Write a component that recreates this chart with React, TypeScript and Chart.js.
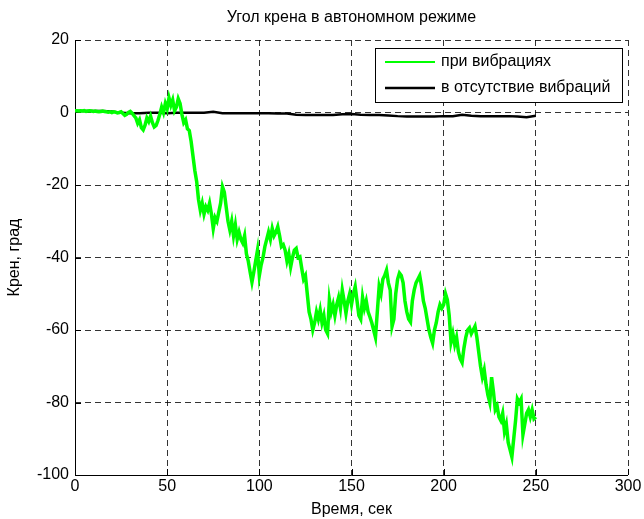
import React, { useEffect, useRef } from "react";
import { Chart, registerables } from "chart.js";

Chart.register(...registerables);

// Roll angle, one sample per second, 0..250 s
const timeVib: number[] = Array.from({ length: 251 }, (_, i) => i);
const rollVib: number[] = [
  0.5, 0.5, 0.4, 0.5, 0.4, 0.5, 0.3, 0.4, 0.5, 0.4,
  0.3, 0.4, 0.3, 0.2, 0.3, 0.4, 0.3, 0.2, 0.1, 0.2,
  0.0, 0.2, 0.1, -0.1, 0.0,
  0.2, -0.3, -0.8, -0.5, 0.0, 0.3, -0.2, -0.9, -1.5, -3.0,
  -2.0, -4.2, -4.8, -3.5, -1.5, -2.5, -1.0, -2.8, -4.0, -3.6,
  -2.2, -0.5, 1.5, 0.0, 2.5,
  1.0, 4.0, 2.0, 3.5, 0.5, 1.5, 3.8, 2.5, -0.5, -2.8,
  -2.0, -4.5, -5.0,
  -8, -12, -16, -19, -24, -27, -25, -28,
  -26, -27, -25, -28, -32, -29, -30, -27.5, -25, -20.5,
  -22, -26, -30, -32.4, -30, -34, -31, -35, -33, -35,
  -36, -34, -39, -41, -44, -46.8, -44, -41, -38, -45,
  -42, -40, -37, -35, -33, -35, -32, -34, -33, -31.5,
  -34, -37, -36.5, -38, -41, -39, -42.6, -40, -38, -37.5,
  -40, -39.8, -43, -46, -45, -50, -55, -57, -60, -58,
  -55, -57, -54.5, -58, -56, -60, -61, -51.7, -55, -53,
  -56, -53, -51, -54, -49, -52, -55.4, -52, -50, -53,
  -50, -48, -52, -56, -57, -51, -54, -52, -55, -56.4,
  -58, -60, -62, -55, -48, -50, -46, -45, -43.5, -47,
  -49, -59, -57, -50, -46, -44.3, -45, -47, -52, -55,
  -57, -57.8, -52, -49, -47, -46, -45, -48, -52, -54,
  -57, -60, -62, -63.6, -60, -58, -55, -53, -54, -53,
  -50, -51.7, -56, -63.3, -61, -64, -62, -66, -68, -69,
  -65, -62, -60, -59.4, -61, -60, -59, -62, -66, -70,
  -73, -71, -75, -78, -80, -73, -77, -82, -81, -84,
  -85, -83, -88, -86, -91, -93, -95, -90, -85, -79,
  -80, -79, -88.9, -86, -83, -82, -84, -82, -84.5, -84,
];

// Roll angle without vibration, one sample per 5 s
const timeCalm: number[] = Array.from({ length: 51 }, (_, i) => i * 5);
const rollCalm: number[] = [
  0.4, 0.4, 0.4, 0.4, 0.3, -0.1, -0.2, -0.2, -0.1, -0.1,
  -0.2, -0.1, -0.1, -0.1, -0.1, 0.2, -0.2, -0.2, -0.2, -0.2,
  -0.2, -0.2, -0.3, -0.3, -0.6, -0.7, -0.7, -0.7, -0.7, -0.5,
  -0.4, -0.6, -0.7, -0.7, -0.8, -1.0, -1.1, -1.1, -1.1, -1.1,
  -1.0, -1.0, -0.6, -0.9, -1.0, -1.0, -1.0, -1.0, -1.1, -1.3,
  -0.9,
];

const seriesLabels: string[] = ["при вибрациях", "в отсутствие вибраций"];
const chartTitle = "Угол крена в автономном режиме";
const xTitle = "Время, сек";
const yTitle = "Крен, град";
const xTicks: number[] = [0, 50, 100, 150, 200, 250, 300];
const yTicks: number[] = [-100, -80, -60, -40, -20, 0, 20];

const FONT = "'Liberation Sans', Arial, Helvetica, sans-serif";
const FONT_SIZE = 16;

// Solid left/bottom axis lines with short inward tick marks
const axesPlugin = {
  id: "axesBox",
  beforeDatasetsDraw(chart: any) {
    const { ctx, chartArea, scales } = chart;
    const { left, right, top, bottom } = chartArea;
    ctx.save();
    ctx.strokeStyle = "#000";
    ctx.lineWidth = 1;
    ctx.setLineDash([]);
    ctx.beginPath();
    ctx.moveTo(left + 0.5, top);
    ctx.lineTo(left + 0.5, bottom + 0.5);
    ctx.lineTo(right, bottom + 0.5);
    xTicks.forEach((v) => {
      const x = Math.round(scales.x.getPixelForValue(v)) + 0.5;
      ctx.moveTo(x, bottom);
      ctx.lineTo(x, bottom - 6);
    });
    yTicks.forEach((v) => {
      const y = Math.round(scales.y.getPixelForValue(v)) + 0.5;
      ctx.moveTo(left, y);
      ctx.lineTo(left + 6, y);
    });
    ctx.stroke();
    ctx.restore();
  },
};

// Title centred over the plot area plus a boxed legend in the upper right
const decorPlugin = {
  id: "decor",
  afterDraw(chart: any) {
    const { ctx, chartArea } = chart;
    ctx.save();
    ctx.fillStyle = "#000";
    ctx.font = `${FONT_SIZE}px ${FONT}`;
    ctx.textAlign = "center";
    ctx.textBaseline = "middle";
    ctx.fillText(chartTitle, (chartArea.left + chartArea.right) / 2, 18);

    const bx = 375, by = 48, bw = 247, bh = 54;
    ctx.fillStyle = "#fff";
    ctx.fillRect(bx, by, bw, bh);
    ctx.strokeStyle = "#000";
    ctx.lineWidth = 1;
    ctx.setLineDash([]);
    ctx.strokeRect(bx + 0.5, by + 0.5, bw, bh);
    chart.data.datasets.forEach((ds: any, i: number) => {
      const y = by + 14 + i * 26;
      ctx.strokeStyle = ds.borderColor;
      ctx.lineWidth = i === 0 ? 2 : 2.5;
      ctx.beginPath();
      ctx.moveTo(bx + 10, y);
      ctx.lineTo(bx + 60, y);
      ctx.stroke();
      ctx.fillStyle = "#000";
      ctx.textAlign = "left";
      ctx.font = `${FONT_SIZE}px ${FONT}`;
      ctx.fillText(ds.label, bx + 66, y);
    });
    ctx.restore();
  },
};

export default function App() {
  const ref = useRef<HTMLCanvasElement>(null);

  useEffect(() => {
    if (!ref.current) return;
    const chart = new Chart(ref.current, {
      type: "line",
      data: {
        datasets: [
          {
            label: seriesLabels[0],
            data: timeVib.map((t, i) => ({ x: t, y: rollVib[i] })),
            borderColor: "#00ff00",
            borderWidth: 3.5,
            pointRadius: 0,
            tension: 0,
          },
          {
            label: seriesLabels[1],
            data: timeCalm.map((t, i) => ({ x: t, y: rollCalm[i] })),
            borderColor: "#000000",
            borderWidth: 2.5,
            pointRadius: 0,
            tension: 0,
          },
        ],
      },
      options: {
        responsive: false,
        animation: false,
        layout: { padding: { top: 40, right: 16, left: 0, bottom: 0 } },
        plugins: {
          legend: { display: false },
          title: { display: false },
          tooltip: { enabled: false },
        },
        scales: {
          x: {
            type: "linear",
            min: 0,
            max: 300,
            afterBuildTicks: (s: any) => {
              s.ticks = xTicks.map((v) => ({ value: v }));
            },
            afterFit: (s: any) => {
              s.height = 44;
            },
            ticks: {
              color: "#000",
              font: { family: FONT, size: FONT_SIZE },
              padding: 2,
              maxRotation: 0,
            },
            grid: { color: "rgba(0,0,0,0.8)", lineWidth: 1, drawTicks: false },
            border: { display: false, dash: [6, 4] },
            title: {
              display: true,
              text: xTitle,
              color: "#000",
              font: { family: FONT, size: FONT_SIZE },
              padding: { top: 1, bottom: 0 },
            },
          },
          y: {
            type: "linear",
            min: -100,
            max: 20,
            afterBuildTicks: (s: any) => {
              s.ticks = yTicks.map((v) => ({ value: v }));
            },
            afterFit: (s: any) => {
              s.width = 75;
            },
            ticks: {
              color: "#000",
              font: { family: FONT, size: FONT_SIZE },
              padding: 6,
            },
            grid: { color: "rgba(0,0,0,0.8)", lineWidth: 1, drawTicks: false },
            border: { display: false, dash: [6, 4] },
            title: {
              display: true,
              text: yTitle,
              color: "#000",
              font: { family: FONT, size: FONT_SIZE },
              padding: { top: 5, bottom: 0 },
            },
          },
        },
      },
      plugins: [axesPlugin, decorPlugin],
    });
    return () => chart.destroy();
  }, []);

  return (
    <div style={{ position: "absolute", left: 0, top: 0, width: 644, height: 519, background: "#fff" }}>
      <canvas ref={ref} width={644} height={519} style={{ width: 644, height: 519 }} />
    </div>
  );
}
